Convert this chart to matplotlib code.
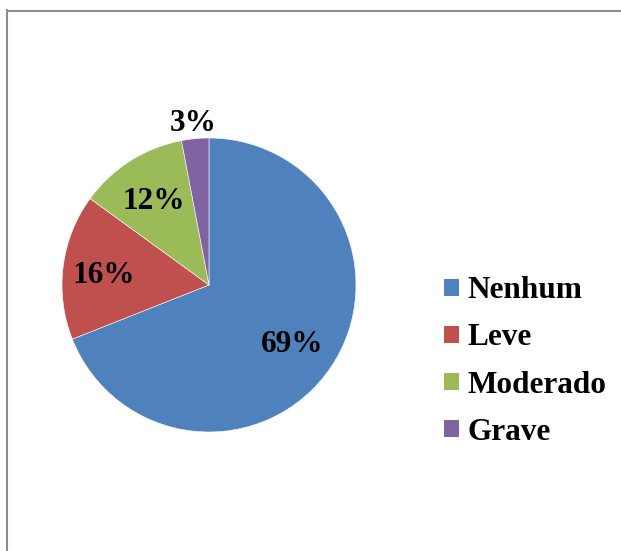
import matplotlib
matplotlib.use('Agg')
import matplotlib.pyplot as plt
from matplotlib.lines import Line2D
from matplotlib.patches import Patch
import numpy as np

# Data
categories = ['Nenhum', 'Leve', 'Moderado', 'Grave']
values = [69, 16, 12, 3]
colors = ['#4F81BD', '#C0504D', '#9BBB59', '#8064A2']
label_dist = [0.68, 0.72, 0.70, 1.13]

W, H = 621, 551
plt.rcParams['font.family'] = ['Liberation Serif', 'DejaVu Serif']
plt.rcParams['font.weight'] = 'bold'

fig = plt.figure(figsize=(W / 100, H / 100), dpi=100)
fig.patch.set_facecolor('white')

# pie area (pixel based)
cx, cy, r = 209, 285, 147
ax = fig.add_axes([(cx - r) / W, (H - cy - r) / H, 2 * r / W, 2 * r / H])
wedges, _ = ax.pie(values, colors=colors, startangle=90, counterclock=False,
                   radius=1, wedgeprops=dict(edgecolor='white', linewidth=0.4))
ax.set_xlim(-1, 1)
ax.set_ylim(-1, 1)
ax.axis('off')

# percentage labels
total = sum(values)
for w, v, d in zip(wedges, values, label_dist):
    ang = np.deg2rad((w.theta1 + w.theta2) / 2)
    ax.text(d * np.cos(ang), d * np.sin(ang), f'{round(100 * v / total)}%',
            ha='center', va='center_baseline', fontsize=22.5, fontweight='bold',
            color='black', clip_on=False)

# legend
handles = [Patch(facecolor=c, edgecolor='none') for c in colors]
fig.legend(handles, categories, loc='center left',
           bbox_to_anchor=(444 / W, 1 - 361.5 / H), frameon=False,
           prop={'weight': 'bold', 'size': 22.5},
           handlelength=0.48, handleheight=0.48, handletextpad=0.26,
           labelspacing=0.58, borderpad=0, borderaxespad=0)

# chart frame (left and top edges visible)
fig.add_artist(Line2D([7 / W, 7 / W], [0, 1 - 10 / H], color='#8c8c8c', lw=1.5))
fig.add_artist(Line2D([7 / W, 1], [1 - 11 / H, 1 - 11 / H], color='#8c8c8c', lw=1.5))

fig.savefig('out.png', dpi=100)
